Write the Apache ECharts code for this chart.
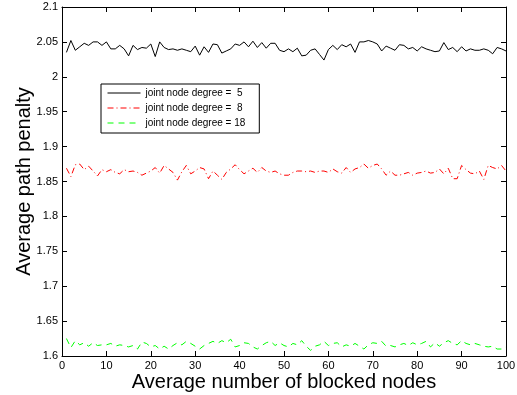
<!DOCTYPE html>
<html>
<head>
<meta charset="utf-8">
<script src="https://cdn.jsdelivr.net/npm/echarts@6/dist/echarts.min.js"></script>
<style>html,body{margin:0;padding:0;background:#fff}#c{width:517px;height:395px}</style>
</head>
<body>
<div id="c"></div>
<script>
const xValues = Array.from({length: 100}, (_, i) => i + 1);
const seriesNames = ["joint node degree =  5", "joint node degree =  8", "joint node degree = 18"];
const deg5 = [2.035,2.052,2.038,2.043,2.048,2.045,2.050,2.050,2.045,2.050,
2.040,2.040,2.045,2.040,2.030,2.045,2.039,2.042,2.041,2.047,
2.029,2.050,2.042,2.039,2.040,2.038,2.040,2.038,2.036,2.044,
2.031,2.043,2.035,2.047,2.046,2.034,2.037,2.040,2.047,2.045,
2.050,2.043,2.051,2.042,2.049,2.041,2.048,2.048,2.038,2.036,
2.040,2.036,2.041,2.030,2.031,2.038,2.040,2.032,2.024,2.039,
2.045,2.039,2.046,2.043,2.047,2.035,2.050,2.050,2.052,2.050,
2.047,2.037,2.044,2.041,2.038,2.046,2.045,2.040,2.042,2.037,
2.043,2.040,2.038,2.036,2.037,2.049,2.039,2.042,2.036,2.043,
2.037,2.040,2.038,2.038,2.040,2.038,2.033,2.042,2.040,2.037];
const deg8 = [1.869,1.857,1.874,1.875,1.867,1.872,1.865,1.858,1.867,1.864,
1.867,1.863,1.861,1.867,1.864,1.865,1.863,1.859,1.862,1.865,
1.870,1.862,1.873,1.868,1.863,1.852,1.864,1.873,1.861,1.865,
1.870,1.868,1.854,1.865,1.859,1.853,1.863,1.868,1.874,1.867,
1.861,1.865,1.869,1.863,1.870,1.865,1.863,1.865,1.861,1.859,
1.859,1.863,1.865,1.865,1.864,1.865,1.863,1.865,1.865,1.863,
1.868,1.864,1.862,1.870,1.863,1.868,1.870,1.875,1.869,1.873,
1.875,1.868,1.859,1.865,1.859,1.859,1.861,1.863,1.859,1.862,
1.863,1.865,1.862,1.863,1.868,1.861,1.869,1.854,1.854,1.873,
1.867,1.862,1.861,1.865,1.853,1.873,1.870,1.868,1.873,1.865];
const deg18 = [1.625,1.612,1.622,1.616,1.619,1.614,1.619,1.615,1.616,1.616,
1.618,1.614,1.616,1.615,1.613,1.615,1.610,1.620,1.618,1.613,
1.615,1.610,1.614,1.610,1.615,1.619,1.616,1.621,1.618,1.614,
1.610,1.615,1.618,1.621,1.618,1.622,1.619,1.624,1.613,1.615,
1.619,1.618,1.613,1.610,1.615,1.619,1.621,1.615,1.619,1.615,
1.613,1.618,1.616,1.622,1.614,1.608,1.614,1.616,1.621,1.615,
1.618,1.619,1.613,1.616,1.614,1.618,1.614,1.610,1.616,1.619,
1.618,1.621,1.614,1.615,1.613,1.616,1.618,1.615,1.619,1.616,
1.618,1.621,1.613,1.619,1.614,1.619,1.622,1.618,1.616,1.622,
1.618,1.616,1.618,1.616,1.614,1.613,1.614,1.610,1.610,1.613];

const FONT = "Liberation Sans";
const pair = arr => arr.map((v, i) => [xValues[i], v]);
const chart = echarts.init(document.getElementById('c'), null, {renderer: 'canvas'});
const tickStyle = {show: true, inside: true, length: 5, lineStyle: {color: '#000', width: 1}};
const lineAx = {show: true, onZero: false, lineStyle: {color: '#000', width: 1}};
chart.setOption({
  animation: false,
  backgroundColor: '#fff',
  grid: {left: 62, right: 11, top: 7, bottom: 39, containLabel: false, outerBoundsMode: 'none'},
  legend: {
    orient: 'vertical', left: 101, top: 84,
    backgroundColor: '#fff', borderColor: '#000', borderWidth: 1,
    padding: [4, 14, 5, 6], itemWidth: 33, itemHeight: 10, itemGap: 5,
    itemStyle: {opacity: 0},
    lineStyle: {width: 1},
    textStyle: {fontFamily: FONT, fontSize: 10, color: '#000'},
    data: seriesNames
  },
  xAxis: [
    {type: 'value', min: 0, max: 100, interval: 10, position: 'bottom',
     axisLine: lineAx, axisTick: tickStyle, splitLine: {show: false},
     axisLabel: {fontFamily: FONT, fontSize: 11, color: '#000', margin: 4},
     name: 'Average number of blocked nodes', nameLocation: 'middle', nameGap: 16,
     nameMoveOverlap: false,
     nameTextStyle: {fontFamily: FONT, fontSize: 20, color: '#000', verticalAlign: 'top'}},
    {type: 'value', min: 0, max: 100, interval: 10, position: 'top',
     axisLine: lineAx, axisTick: tickStyle, splitLine: {show: false},
     axisLabel: {show: false}}
  ],
  yAxis: [
    {type: 'value', min: 1.6, max: 2.1, interval: 0.05, position: 'left',
     axisLine: lineAx, axisTick: tickStyle, splitLine: {show: false},
     axisLabel: {fontFamily: FONT, fontSize: 11, color: '#000', margin: 4,
       formatter: v => String(+v.toFixed(2))},
     name: 'Average path penalty', nameLocation: 'middle', nameGap: 28,
     nameMoveOverlap: false,
     nameTextStyle: {fontFamily: FONT, fontSize: 20, color: '#000', verticalAlign: 'bottom'}},
    {type: 'value', min: 1.6, max: 2.1, interval: 0.05, position: 'right',
     axisLine: lineAx, axisTick: tickStyle, splitLine: {show: false},
     axisLabel: {show: false}}
  ],
  series: [
    {name: seriesNames[0], type: 'line', data: pair(deg5), showSymbol: false, symbol: 'none',
     lineStyle: {color: '#000', width: 1, type: 'solid'}, itemStyle: {color: '#000'}},
    {name: seriesNames[1], type: 'line', data: pair(deg8), showSymbol: false, symbol: 'none',
     lineStyle: {color: '#ff0000', width: 1, type: [6, 3, 1, 3]}, itemStyle: {color: '#ff0000'}},
    {name: seriesNames[2], type: 'line', data: pair(deg18), showSymbol: false, symbol: 'none',
     lineStyle: {color: '#00ff00', width: 1, type: [6, 5]}, itemStyle: {color: '#00ff00'}}
  ]
});
</script>
</body>
</html>
